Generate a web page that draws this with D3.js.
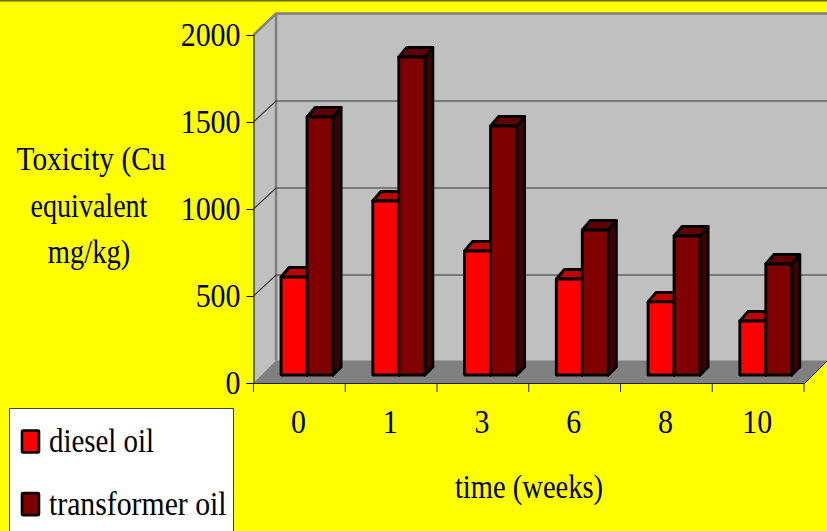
<!DOCTYPE html>
<html>
<head>
<meta charset="utf-8">
<script src="https://cdn.jsdelivr.net/npm/d3@7"></script>
<style>
html, body { margin: 0; padding: 0; background: #ffff00; overflow: hidden; }
svg { display: block; }
text { font-family: "Liberation Serif", serif; fill: #000; }
</style>
</head>
<body>
<svg id="chart" width="827" height="531"></svg>
<script>
// Toxicity readings per sampling week, one array per oil type.
const weeks = ["0", "1", "3", "6", "8", "10"];
const dieselOil = [563, 1000, 713, 552, 420, 310];
const transformerOil = [1483, 1828, 1431, 833, 799, 638];
const yTicks = [0, 500, 1000, 1500, 2000];
const seriesNames = ["diesel oil", "transformer oil"];
const seriesColors = ["#ff0000", "#800000"];
const seriesTops = ["#c00000", "#600000"];
const seriesSides = ["#a00000", "#400000"];
const yTitleLines = ["Toxicity (Cu", "equivalent", "mg/kg)"];
const xTitle = "time (weeks)";

const svg = d3.select("#chart");

// Glyphs are set narrow and tall: a large size squeezed horizontally.
const fontSize = 34;
const digitSqueeze = 0.88;
const xTitleSqueeze = 0.84;
const yTitleSqueezes = [0.865, 0.825, 0.84];
const legendSqueezes = [0.85, 0.875];

// Oblique projection: the chart box has a front plane and a back wall offset up and right.
const boxDepth = { x: 22.5, y: -21.5 };
const gridRise = -21;
const floorRise = -22.5;
const barDepth = { x: 8, y: -8 };
const barTopRise = -9.5;
const barInset = { x: 7.7, y: -8 };
const y = d3.scaleLinear().domain([0, 2000]).range([383, 35]);
const x = d3.scaleBand().domain(weeks).range([253.5, 804]).padding(0);
const barW = 26;
const yMax = 2000;

const pts = a => a.map(p => p.join(",")).join(" ");
const x0 = x.range()[0], x1 = 805;

// Top edge of the slide
svg.append("rect").attr("width", 827).attr("height", 1.5).attr("fill", "#6b6b00");

// Back wall
svg.append("rect")
  .attr("x", x0 + boxDepth.x).attr("y", y(yMax) + boxDepth.y)
  .attr("width", 827 - x0 - boxDepth.x).attr("height", y(0) - y(yMax))
  .attr("fill", "#c0c0c0");

// Side wall
svg.append("polygon")
  .attr("points", pts([[x0, y(0)], [x0, y(yMax)], [x0 + boxDepth.x, y(yMax) + boxDepth.y], [x0 + boxDepth.x, y(0) + boxDepth.y]]))
  .attr("fill", "#c0c0c0");

// Floor
svg.append("polygon")
  .attr("points", pts([[x0, y(0)], [x1, y(0)], [x1 + boxDepth.x, y(0) + floorRise], [x0 + boxDepth.x, y(0) + floorRise]]))
  .attr("fill", "#808080");

// Gray outline of the wall edges
svg.append("polyline")
  .attr("points", pts([[x0, y(yMax)], [x0 + boxDepth.x, y(yMax) + boxDepth.y], [827, y(yMax) + boxDepth.y]]))
  .attr("fill", "none").attr("stroke", "#808080").attr("stroke-width", 2.5);
svg.append("line")
  .attr("x1", x0 + boxDepth.x).attr("x2", x0 + boxDepth.x)
  .attr("y1", y(yMax) + boxDepth.y).attr("y2", y(0) + floorRise)
  .attr("stroke", "#808080").attr("stroke-width", 2.5);

// Gridlines run along the side wall and across the back wall
const gridValues = yTicks.filter(v => v > 0 && v < yMax);
svg.append("g").selectAll("polyline").data(gridValues).join("polyline")
  .attr("points", v => pts([[x0, y(v)], [x0 + boxDepth.x, y(v) + gridRise], [827, y(v) + gridRise]]))
  .attr("fill", "none").attr("stroke", "#333").attr("stroke-width", 1.2);

// Right end of the floor
svg.append("line")
  .attr("x1", x1).attr("y1", y(0))
  .attr("x2", x1 + boxDepth.x).attr("y2", y(0) + floorRise)
  .attr("stroke", "#222").attr("stroke-width", 1);

// Axes
const yAxis = d3.axisLeft(y).tickValues(yTicks).tickSize(7).tickFormat(d3.format("d"));
const yG = svg.append("g").attr("transform", `translate(${x0},0)`).call(yAxis);
yG.selectAll("text")
  .attr("x", 0).attr("y", 0).attr("dy", 0)
  .attr("font-size", fontSize).style("font-family", '"Liberation Serif", serif')
  .attr("transform", `translate(-13,10.5) scale(${digitSqueeze},1)`);

const xAxis = d3.axisBottom(x).tickSize(0);
const xG = svg.append("g").attr("transform", `translate(0,${y(0)})`).call(xAxis);
xG.selectAll("text")
  .attr("x", 0).attr("y", 0).attr("dy", 0)
  .attr("font-size", fontSize).style("font-family", '"Liberation Serif", serif')
  .attr("transform", `translate(-1,50) scale(${digitSqueeze},1)`);
svg.append("g").selectAll("line").data(d3.range(weeks.length + 1)).join("line")
  .attr("x1", i => x0 + i * x.step()).attr("x2", i => x0 + i * x.step())
  .attr("y1", y(0)).attr("y2", y(0) + 9)
  .attr("stroke", "#222").attr("stroke-width", 1);
svg.selectAll(".domain").attr("stroke", "#222").attr("stroke-width", 1.2);

// 3-D bars: one group per week, each with a front, top and side face
const flat = weeks.flatMap((w, i) => [
  { week: w, s: 0, value: dieselOil[i] },
  { week: w, s: 1, value: transformerOil[i] }
]);
const bars = svg.append("g").selectAll("g").data(flat).join("g")
  .attr("stroke", "#000").attr("stroke-width", 2.9).attr("stroke-linejoin", "round");
const bx = d => x(d.week) + x.bandwidth() / 2 + barInset.x - barW + d.s * barW;
const by = v => y(v) + barInset.y;
bars.append("polygon")
  .attr("points", d => pts([[bx(d) + barW, by(d.value)], [bx(d) + barW + barDepth.x, by(d.value) + barTopRise],
    [bx(d) + barW + barDepth.x, by(0) + barDepth.y], [bx(d) + barW, by(0)]]))
  .attr("fill", d => seriesSides[d.s]);
bars.append("polygon")
  .attr("points", d => pts([[bx(d), by(d.value)], [bx(d) + barDepth.x, by(d.value) + barTopRise],
    [bx(d) + barW + barDepth.x, by(d.value) + barTopRise], [bx(d) + barW, by(d.value)]]))
  .attr("fill", d => seriesTops[d.s]);
bars.append("rect")
  .attr("x", bx).attr("y", d => by(d.value))
  .attr("width", barW).attr("height", d => by(0) - by(d.value))
  .attr("fill", d => seriesColors[d.s]);

// Axis titles
svg.append("g").selectAll("text").data(yTitleLines).join("text")
  .attr("transform", (d, i) => `translate(${i === 0 ? 91 : 89},${170 + i * 46.7}) scale(${yTitleSqueezes[i]},1)`)
  .attr("text-anchor", "middle").attr("font-size", fontSize).text(d => d);
svg.append("text")
  .attr("transform", `translate(529,498) scale(${xTitleSqueeze},1)`)
  .attr("text-anchor", "middle").attr("font-size", fontSize).text(xTitle);

// Legend
svg.append("rect").attr("x", 9.5).attr("y", 408.5).attr("width", 224).attr("height", 130)
  .attr("fill", "#fff").attr("stroke", "#444").attr("stroke-width", 1);
const legend = svg.append("g").selectAll("g").data(seriesNames).join("g")
  .attr("transform", (d, i) => `translate(0,${i * 62.6})`);
legend.append("rect").attr("x", 22).attr("y", 430.5).attr("width", 17).attr("height", 22)
  .attr("rx", 1)
  .attr("fill", (d, i) => seriesColors[i]).attr("stroke", "#000").attr("stroke-width", 2.6);
legend.append("text")
  .attr("transform", (d, i) => `translate(49,452) scale(${legendSqueezes[i]},1)`)
  .attr("font-size", fontSize).text(d => d);
</script>
</body>
</html>
